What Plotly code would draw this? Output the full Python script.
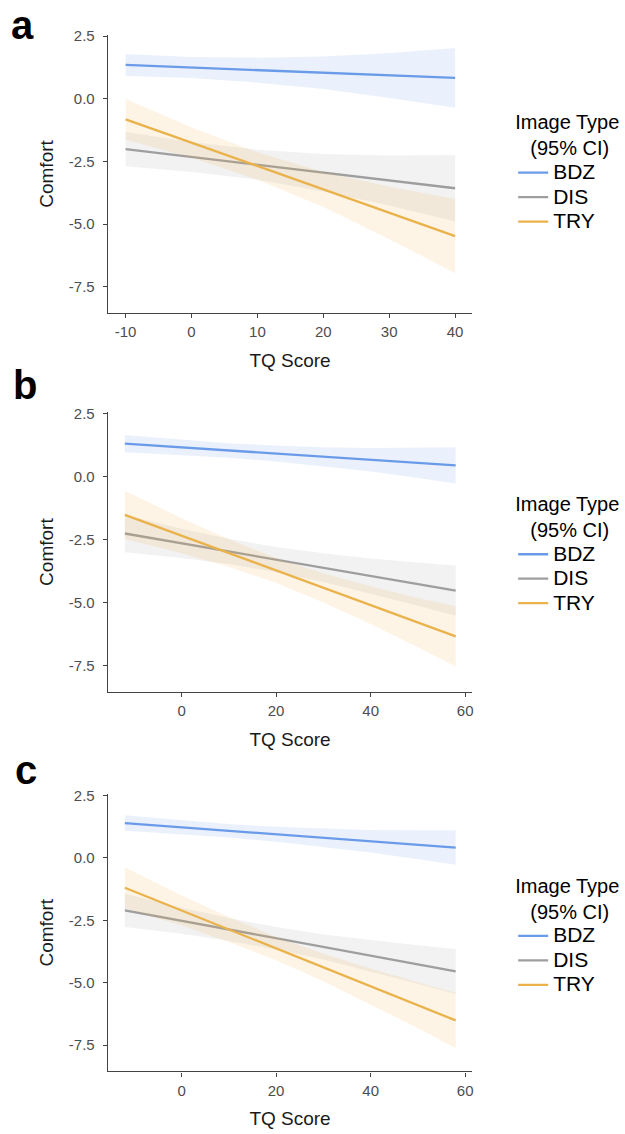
import plotly.graph_objects as go

# ---------------- data ----------------
series_names = ["BDZ", "DIS", "TRY"]

# panel a
x_a = [-10, 0, 10, 20, 30, 40]
a_fit_bdz = [1.35, 1.25, 1.14, 1.04, 0.93, 0.83]
a_lo_bdz = [0.91, 0.83, 0.64, 0.39, 0.03, -0.36]
a_hi_bdz = [1.79, 1.67, 1.64, 1.69, 1.83, 2.02]
a_fit_dis = [-2.01, -2.32, -2.63, -2.95, -3.26, -3.57]
a_lo_dis = [-2.69, -2.92, -3.23, -3.70, -4.26, -4.90]
a_hi_dis = [-1.33, -1.72, -2.03, -2.20, -2.26, -2.24]
a_fit_try = [-0.82, -1.75, -2.68, -3.62, -4.55, -5.48]
a_lo_try = [-1.64, -2.35, -3.23, -4.32, -5.60, -6.96]
a_hi_try = [0.00, -1.15, -2.13, -2.92, -3.50, -4.00]

# panel b
x_b = [-12, 0, 10, 20, 30, 40, 50, 58]
b_fit_bdz = [1.31, 1.16, 1.04, 0.92, 0.79, 0.67, 0.55, 0.45]
b_lo_bdz = [0.97, 0.86, 0.75, 0.60, 0.41, 0.20, -0.05, -0.27]
b_hi_bdz = [1.65, 1.46, 1.33, 1.24, 1.17, 1.14, 1.15, 1.17]
b_fit_dis = [-2.26, -2.65, -2.97, -3.30, -3.62, -3.95, -4.27, -4.53]
b_lo_dis = [-3.01, -3.23, -3.47, -3.80, -4.19, -4.65, -5.13, -5.53]
b_hi_dis = [-1.51, -2.07, -2.47, -2.80, -3.05, -3.25, -3.41, -3.53]
b_fit_try = [-1.52, -2.35, -3.04, -3.73, -4.42, -5.11, -5.80, -6.35]
b_lo_try = [-2.48, -3.05, -3.59, -4.23, -5.00, -5.86, -6.78, -7.55]
b_hi_try = [-0.56, -1.65, -2.49, -3.23, -3.84, -4.36, -4.82, -5.15]

# panel c
x_c = [-12, 0, 10, 20, 30, 40, 50, 58]
c_fit_bdz = [1.39, 1.22, 1.08, 0.94, 0.80, 0.66, 0.52, 0.41]
c_lo_bdz = [1.08, 0.94, 0.81, 0.64, 0.44, 0.21, -0.06, -0.28]
c_hi_bdz = [1.70, 1.50, 1.35, 1.24, 1.16, 1.11, 1.10, 1.10]
c_fit_dis = [-2.10, -2.52, -2.87, -3.22, -3.57, -3.92, -4.27, -4.55]
c_lo_dis = [-2.77, -3.04, -3.33, -3.67, -4.07, -4.54, -5.04, -5.45]
c_hi_dis = [-1.43, -2.00, -2.41, -2.77, -3.07, -3.30, -3.50, -3.65]
c_fit_try = [-1.20, -2.11, -2.87, -3.63, -4.39, -5.15, -5.90, -6.51]
c_lo_try = [-2.02, -2.71, -3.37, -4.10, -4.94, -5.87, -6.82, -7.62]
c_hi_try = [-0.38, -1.51, -2.37, -3.16, -3.84, -4.43, -4.98, -5.40]

y_tickvals = [2.5, 0.0, -2.5, -5.0, -7.5]
y_ticktext = ["2.5", "0.0", "-2.5", "-5.0", "-7.5"]
x_ticks_a = [-10, 0, 10, 20, 30, 40]
x_ticktext_a = ["-10", "0", "10", "20", "30", "40"]
x_ticks_bc = [0, 20, 40, 60]
x_ticktext_bc = ["0", "20", "40", "60"]
panel_letters = ["a", "b", "c"]
x_title = "TQ Score"
y_title = "Comfort"
legend_title = "Image Type<br>&nbsp;&nbsp;&#8201;(95% CI)"

# ---------------- styling ----------------
line_colors = {"BDZ": "#6A9BE8", "DIS": "#9E9E9E", "TRY": "#EAB24A"}
fill_colors = {"BDZ": "rgba(110,155,232,0.14)",
               "DIS": "rgba(150,150,150,0.12)",
               "TRY": "rgba(238,180,80,0.14)"}
FONT = "Arial, Liberation Sans, sans-serif"
W, H = 625, 1134

panels = [
    dict(x=x_a, data={"BDZ": (a_fit_bdz, a_lo_bdz, a_hi_bdz),
                      "DIS": (a_fit_dis, a_lo_dis, a_hi_dis),
                      "TRY": (a_fit_try, a_lo_try, a_hi_try)},
         xrange=[-12.7, 42.6], xticks=x_ticks_a, xtext=x_ticktext_a,
         ypx=(28, 308), leg_top=97, letter_xy=(23, 18)),
    dict(x=x_b, data={"BDZ": (b_fit_bdz, b_lo_bdz, b_hi_bdz),
                      "DIS": (b_fit_dis, b_lo_dis, b_hi_dis),
                      "TRY": (b_fit_try, b_lo_try, b_hi_try)},
         xrange=[-15.6, 61.5], xticks=x_ticks_bc, xtext=x_ticktext_bc,
         ypx=(408, 689), leg_top=481, letter_xy=(25, 380)),
    dict(x=x_c, data={"BDZ": (c_fit_bdz, c_lo_bdz, c_hi_bdz),
                      "DIS": (c_fit_dis, c_lo_dis, c_hi_dis),
                      "TRY": (c_fit_try, c_lo_try, c_hi_try)},
         xrange=[-15.6, 61.5], xticks=x_ticks_bc, xtext=x_ticktext_bc,
         ypx=(792, 1071), leg_top=865, letter_xy=(26, 768)),
]

fig = go.Figure()
layout = dict(width=W, height=H, margin=dict(l=0, r=0, t=0, b=0),
              paper_bgcolor="white", plot_bgcolor="white",
              font=dict(family=FONT, color="black"), annotations=[])

xdom = [108 / W, 473 / W]
for i, p in enumerate(panels):
    n = "" if i == 0 else str(i + 1)
    xa, ya = "x" + n, "y" + n
    leg = "legend" + n
    for s in series_names:
        fit, lo, hi = p["data"][s]
        fig.add_trace(go.Scatter(x=p["x"], y=lo, xaxis=xa, yaxis=ya, mode="lines",
                                 line=dict(width=0), showlegend=False, hoverinfo="skip"))
        fig.add_trace(go.Scatter(x=p["x"], y=hi, xaxis=xa, yaxis=ya, mode="lines",
                                 line=dict(width=0), fill="tonexty",
                                 fillcolor=fill_colors[s], showlegend=False,
                                 hoverinfo="skip"))
        fig.add_trace(go.Scatter(x=p["x"], y=fit, xaxis=xa, yaxis=ya, mode="lines",
                                 line=dict(color=line_colors[s], width=2.3),
                                 name='<span style="font-size:21px">%s</span>' % s,
                                 legend=leg, showlegend=True))
    top, bot = p["ypx"]
    axis_common = dict(showline=True, linecolor="#444", linewidth=1.3,
                       ticks="outside", ticklen=4, tickwidth=1.3, tickcolor="#444",
                       showgrid=False, zeroline=False,
                       tickfont=dict(size=15, color="#4D4D4D", family=FONT))
    layout["xaxis" + n] = dict(axis_common, domain=xdom, anchor=ya,
                               range=p["xrange"], tickvals=p["xticks"],
                               ticktext=p["xtext"], ticklabelstandoff=1,
                               title=dict(text=x_title, font=dict(size=19, color="#1a1a1a"),
                                          standoff=14))
    layout["yaxis" + n] = dict(axis_common, domain=[1 - bot / H, 1 - top / H],
                               anchor=xa, range=[-8.55, 2.55],
                               tickvals=y_tickvals, ticktext=y_ticktext,
                               ticklabelstandoff=5,
                               title=dict(text=y_title, font=dict(size=19, color="#1a1a1a"),
                                          standoff=10))
    layout[leg] = dict(x=514 / W, xanchor="left", y=1 - p["leg_top"] / H, yanchor="top",
                       bgcolor="rgba(0,0,0,0)", traceorder="normal",
                       font=dict(size=16.5, color="black", family=FONT),
                       title=dict(text=legend_title, side="top",
                                  font=dict(size=20, color="black", family=FONT)),
                       itemclick=False, itemdoubleclick=False)
    lx, ly = p["letter_xy"]
    layout["annotations"].append(dict(text="<b>%s</b>" % panel_letters[i],
                                      x=lx / W, y=1 - ly / H, xref="paper", yref="paper",
                                      xanchor="center", yanchor="middle", showarrow=False,
                                      font=dict(size=40, color="black", family=FONT)))

fig.update_layout(**layout)
fig.write_html("out.html", config={"displayModeBar": False},
               post_script="document.body.style.margin='0';"
                           "document.body.style.overflow='hidden';")
